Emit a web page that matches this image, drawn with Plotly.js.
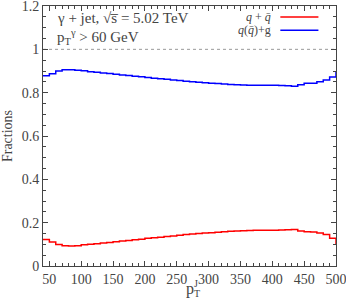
<!DOCTYPE html>
<html><head><meta charset="utf-8">
<script src="https://cdn.plot.ly/plotly-3.0.1.min.js"></script>
<style>body{margin:0;padding:0;background:#fff}#plot{width:346px;height:307px}</style>
</head><body><div id="plot"></div>
<script>
// lower bin edges (GeV), last entry is the upper end of the final bin
const binEdges = [40,50,60,70,80,90,100,110,120,130,140,150,160,170,180,190,200,210,220,230,240,250,260,270,280,290,300,310,320,330,340,350,360,370,380,390,400,410,420,430,440,450,460,470,480,490,500];
const fracQQbar = [0.122,0.111,0.099,0.093,0.092,0.094,0.098,0.100,0.103,0.106,0.109,0.112,0.115,0.118,0.121,0.124,0.128,0.130,0.133,0.136,0.139,0.142,0.145,0.148,0.150,0.152,0.154,0.156,0.158,0.160,0.162,0.163,0.164,0.165,0.165,0.165,0.165,0.166,0.167,0.169,0.162,0.158,0.157,0.152,0.145,0.128,0.100];
const fracQG = [0.878,0.887,0.900,0.906,0.906,0.903,0.901,0.897,0.894,0.891,0.888,0.885,0.882,0.879,0.876,0.873,0.870,0.867,0.864,0.862,0.859,0.856,0.853,0.850,0.848,0.846,0.844,0.842,0.840,0.838,0.837,0.835,0.834,0.834,0.834,0.834,0.834,0.833,0.832,0.830,0.836,0.843,0.844,0.850,0.858,0.872,0.898];
const refLine = [1, 1];
const xTicks = [50,100,150,200,250,300,350,400,450,500];
const yTicks = [0,0.2,0.4,0.6,0.8,1,1.2];
const yTickText = ['0','0.2','0.4','0.6','0.8','1','1.2'];

const F = 'Liberation Serif, Times New Roman, serif';
const txt = '#444';
const traces = [
  {x:[binEdges[0], binEdges[binEdges.length-1]], y:refLine, mode:'lines', line:{color:'#999', width:1, dash:'dot'}, hoverinfo:'skip', showlegend:false},
  {x:binEdges, y:fracQQbar, mode:'lines', line:{shape:'hv', color:'#ff0000', width:1.5}, showlegend:false},
  {x:binEdges, y:fracQG, mode:'lines', line:{shape:'hv', color:'#0000ff', width:1.5}, showlegend:false}
];
const axisCommon = {showgrid:false, zeroline:false, showline:true, linecolor:'#444', linewidth:1, mirror:'ticks', ticks:'inside', tickcolor:'#444', ticklen:5, tickfont:{family:F, size:14, color:txt}, ticklabeloverflow:'allow'};
const layout = {
  width:346, height:307, autosize:false,
  margin:{l:43, r:10, t:6, b:41},
  paper_bgcolor:'#fff', plot_bgcolor:'#fff',
  xaxis:Object.assign({}, axisCommon, {range:[40,500], tickvals:xTicks, ticktext:xTicks.map(String), minor:{dtick:10, tick0:0, ticks:'inside', ticklen:3, tickcolor:'#444'}}),
  yaxis:Object.assign({}, axisCommon, {range:[0,1.2], tickvals:yTicks, ticktext:yTickText, minor:{dtick:0.05, tick0:0, ticks:'inside', ticklen:3, tickcolor:'#444'},
    title:{text:'Fractions', font:{family:F, size:14, color:txt}, standoff:6}}),
  annotations:[
    {xref:'paper', yref:'paper', x:0.04, y:0.952, xanchor:'left', yanchor:'middle', showarrow:false, text:'γ + jet, √s̅ = 5.02 TeV', font:{family:F, size:15, color:txt}},
    {xref:'paper', yref:'paper', x:0.04, y:0.882, xanchor:'left', yanchor:'middle', showarrow:false, text:'p<sub>T</sub><sup>γ</sup> > 60 GeV', font:{family:F, size:15, color:txt}},
    {xref:'paper', yref:'paper', x:0.785, y:0.958, xanchor:'right', yanchor:'middle', showarrow:false, text:'<i>q</i> + <i>q̄</i>', font:{family:F, size:12, color:txt}},
    {xref:'paper', yref:'paper', x:0.785, y:0.907, xanchor:'right', yanchor:'middle', showarrow:false, text:'<i>q</i>(<i>q̄</i>)+g', font:{family:F, size:12, color:txt}},
    {xref:'paper', yref:'paper', x:0.481, y:-0.047, xanchor:'left', yanchor:'top', showarrow:false, text:'p', font:{family:F, size:16, color:txt}},
    {xref:'paper', yref:'paper', x:0.509, y:-0.038, xanchor:'left', yanchor:'top', showarrow:false, text:'J', font:{family:F, size:10, color:txt}},
    {xref:'paper', yref:'paper', x:0.507, y:-0.076, xanchor:'left', yanchor:'top', showarrow:false, text:'T', font:{family:F, size:10, color:txt}}
  ],
  shapes:[
    {type:'line', xref:'paper', yref:'paper', x0:0.81, x1:0.94, y0:0.958, y1:0.958, line:{color:'#ff0000', width:1.5}},
    {type:'line', xref:'paper', yref:'paper', x0:0.81, x1:0.94, y0:0.907, y1:0.907, line:{color:'#0000ff', width:1.5}}
  ]
};
Plotly.newPlot('plot', traces, layout, {displayModeBar:false, staticPlot:true});
</script></body></html>
